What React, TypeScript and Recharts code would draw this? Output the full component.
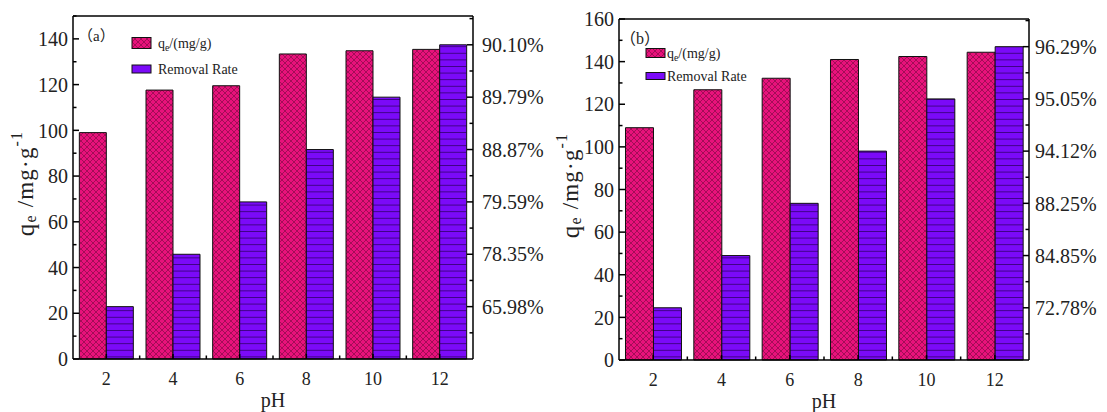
import React from 'react';
import { BarChart, Bar, XAxis, YAxis, ReferenceLine } from 'recharts';

// pH levels tested (shared by both panels)
const phLevels = ['2', '4', '6', '8', '10', '12'];

// panel (a)
const qeA = [99, 117.6, 119.5, 133.4, 134.8, 135.4];
const removalA = [65.98, 78.35, 79.59, 88.87, 89.79, 90.1];
const rateTicksA = [65.98, 78.35, 79.59, 88.87, 89.79, 90.1];

// panel (b)
const qeB = [109, 126.8, 132.2, 141, 142.4, 144.4];
const removalB = [72.78, 84.85, 88.25, 94.12, 95.05, 96.29];
const rateTicksB = [72.78, 84.85, 88.25, 94.12, 95.05, 96.29];

const PINK = '#E8127B';
const VIOLET = '#7B0AF8';
const FONT = "'Liberation Serif', 'Times New Roman', serif";
const AXIS_W = 1.5;

// the rate axis is spaced by rank, one slot per labelled rate
const toSlot = (v: number, ticks: number[]) => {
  if (v <= ticks[0]) return v / ticks[0];
  for (let i = 0; i < ticks.length - 1; i++) {
    if (v <= ticks[i + 1]) return i + 1 + (v - ticks[i]) / (ticks[i + 1] - ticks[i]);
  }
  return ticks.length;
};

const range = (from: number, to: number, step: number) => {
  const out: number[] = [];
  for (let v = from; v <= to + 1e-9; v += step) out.push(Math.round(v * 100) / 100);
  return out;
};

const LeftTick = (props: any) => {
  const { x, y, payload } = props;
  const major = payload.value % 20 === 0;
  return (
    <g>
      <line x1={x} x2={x + (major ? 6 : 3.5)} y1={y} y2={y} stroke="#000" strokeWidth={AXIS_W} />
      {major && (
        <text x={x - 5} y={y} dy="0.36em" textAnchor="end" fontSize={20} fontFamily={FONT} fill="#222">
          {payload.value}
        </text>
      )}
    </g>
  );
};

const makeRightTick = (labels: number[], gap: number) => (props: any) => {
  const { x, y, payload } = props;
  const major = Number.isInteger(payload.value);
  return (
    <g key={`rt-${payload.value}`}>
      <line x1={x} x2={x - (major ? 6 : 3.5)} y1={y} y2={y} stroke="#000" strokeWidth={AXIS_W} />
      {major && (
        <text x={x + gap} y={y} dy="0.36em" textAnchor="start" fontSize={20} fontFamily={FONT} fill="#222">
          {labels[payload.value - 1].toFixed(2)}%
        </text>
      )}
    </g>
  );
};

const makeBottomTick = (halfBand: number, last: string) => (props: any) => {
  const { x, y, payload } = props;
  return (
    <g key={`bt-${payload.value}`}>
      <line x1={x} x2={x} y1={y} y2={y - 5} stroke="#000" strokeWidth={AXIS_W} />
      {payload.value !== last && (
        <line x1={x + halfBand} x2={x + halfBand} y1={y} y2={y - 3.5} stroke="#000" strokeWidth={AXIS_W} />
      )}
      <text x={x} y={y + 26} textAnchor="middle" fontSize={18} fontFamily={FONT} fill="#222">
        {payload.value}
      </text>
    </g>
  );
};

const YTitle = ({ cx, cy }: { cx: number; cy: number }) => (
  <text
    x={cx}
    y={cy}
    transform={`rotate(-90, ${cx}, ${cy})`}
    textAnchor="middle"
    dominantBaseline="central"
    fontFamily={FONT}
    fill="#222"
    fontSize={23}
    letterSpacing={1.2}
  >
    <tspan fontSize={25}>q</tspan>
    <tspan fontSize={16} dy={5}>e</tspan>
    <tspan dy={-5}> /mg·g</tspan>
    <tspan fontSize={16} dy={-9}>-1</tspan>
  </text>
);

interface PanelProps {
  id: string;
  tag: string;
  qe: number[];
  removal: number[];
  rateTicks: number[];
  qeMax: number;
  slotMax: number;
  left: number;
  width: number;
  margin: { top: number; right: number; bottom: number; left: number };
  rateGap: number;
  titleX: number;
  legend: { x: number; y1: number; y2: number; h1: number; h2: number; textX: number; font: number };
  tagPos: { x: number; y: number; font: number };
}

const Panel = (p: PanelProps) => {
  const rows = phLevels.map((ph, i) => ({
    ph,
    qe: p.qe[i],
    rate: p.removal[i],
    slot: toSlot(p.removal[i], p.rateTicks),
  }));
  const plotW = p.width - p.margin.left - p.margin.right - 40 - 70;
  const halfBand = plotW / phLevels.length / 2;
  const cross = `cross-${p.id}`;
  const lines = `lines-${p.id}`;
  const lg = p.legend;

  return (
    <div style={{ position: 'absolute', left: p.left, top: 0, width: p.width, height: 412 }}>
      <BarChart
        width={p.width}
        height={412}
        data={rows}
        margin={p.margin}
        barGap={0}
        barCategoryGap="9.5%"
      >
        <defs>
          <pattern id={cross} width={6} height={6} patternUnits="userSpaceOnUse">
            <rect width={6} height={6} fill={PINK} />
            <path d="M0,0L6,6M6,0L0,6" stroke="#6a0a38" strokeWidth={0.55} />
          </pattern>
          <pattern id={lines} width={8} height={6.6} patternUnits="userSpaceOnUse">
            <rect width={8} height={6.6} fill={VIOLET} />
            <line x1={0} x2={8} y1={0.4} y2={0.4} stroke="#2a0060" strokeWidth={0.8} />
          </pattern>
        </defs>
        <XAxis
          dataKey="ph"
          height={30}
          interval={0}
          tickSize={0}
          tickMargin={0}
          tickLine={false}
          axisLine={{ stroke: '#000', strokeWidth: AXIS_W }}
          tick={makeBottomTick(halfBand, phLevels[phLevels.length - 1])}
          label={(lp: any) => {
            const vb = lp.viewBox;
            return (
              <text x={vb.x + vb.width / 2} y={vb.y + 48} textAnchor="middle" fontSize={20} fontFamily={FONT} fill="#222">
                pH
              </text>
            );
          }}
        />
        <YAxis
          yAxisId="left"
          width={40}
          domain={[0, p.qeMax]}
          ticks={range(0, p.qeMax, 10)}
          interval={0}
          tickSize={0}
          tickMargin={0}
          tickLine={false}
          axisLine={{ stroke: '#000', strokeWidth: AXIS_W }}
          tick={LeftTick}
          label={(lp: any) => {
            const vb = lp.viewBox;
            return <YTitle cx={p.titleX} cy={vb.y + vb.height / 2 - 4} />;
          }}
        />
        <YAxis
          yAxisId="right"
          orientation="right"
          width={70}
          domain={[0, p.slotMax]}
          ticks={range(0.5, 6.5, 0.5)}
          interval={0}
          tickSize={0}
          tickMargin={0}
          tickLine={false}
          axisLine={{ stroke: '#000', strokeWidth: AXIS_W }}
          tick={makeRightTick(p.rateTicks, p.rateGap)}
        />
        <ReferenceLine yAxisId="left" y={p.qeMax} stroke="#000" strokeWidth={AXIS_W} />
        <Bar
          yAxisId="left"
          dataKey="qe"
          name="qe/(mg/g)"
          fill={`url(#${cross})`}
          stroke="#111"
          strokeWidth={1}
          isAnimationActive={false}
        />
        <Bar
          yAxisId="right"
          dataKey="slot"
          name="Removal Rate"
          fill={`url(#${lines})`}
          stroke="#111"
          strokeWidth={1}
          isAnimationActive={false}
        />
      </BarChart>
      <svg
        width={p.width}
        height={412}
        style={{ position: 'absolute', left: 0, top: 0, pointerEvents: 'none' }}
      >
        <text x={p.tagPos.x} y={p.tagPos.y} dy="0.35em" fontSize={p.tagPos.font} fill="#222">
          <tspan fontFamily="'Noto Sans CJK SC'">（</tspan>
          <tspan fontFamily={FONT}>{p.tag}</tspan>
          <tspan fontFamily="'Noto Sans CJK SC'">）</tspan>
        </text>
        <rect x={lg.x} y={lg.y1 - lg.h1 / 2} width={19} height={lg.h1} fill={`url(#${cross})`} stroke="#111" strokeWidth={1} />
        <text x={lg.textX} y={lg.y1} dy="0.35em" fontSize={lg.font} fontFamily={FONT} fill="#222">
          <tspan>q</tspan>
          <tspan fontSize={lg.font * 0.7} dy={3}>e</tspan>
          <tspan dy={-3}>/(mg/g)</tspan>
        </text>
        <rect x={lg.x} y={lg.y2 - lg.h2 / 2} width={19} height={lg.h2} fill={VIOLET} stroke="#111" strokeWidth={1} />
        <text x={lg.textX} y={lg.y2} dy="0.35em" fontSize={lg.font} fontFamily={FONT} fill="#222">
          Removal Rate
        </text>
      </svg>
    </div>
  );
};

export default function App() {
  return (
    <div style={{ position: 'absolute', left: 0, top: 0, width: 1107, height: 412, background: '#fff' }}>
      <Panel
        id="a"
        tag="a"
        qe={qeA}
        removal={removalA}
        rateTicks={rateTicksA}
        qeMax={150}
        slotMax={6.55}
        left={0}
        width={555}
        margin={{ top: 16, right: 12, bottom: 23, left: 33 }}
        rateGap={9}
        titleX={25}
        legend={{ x: 132, y1: 43, y2: 69, h1: 11, h2: 8, textX: 158, font: 14 }}
        tagPos={{ x: 78, y: 36, font: 15 }}
      />
      <Panel
        id="b"
        tag="b"
        qe={qeB}
        removal={removalB}
        rateTicks={rateTicksB}
        qeMax={160}
        slotMax={6.53}
        left={550}
        width={557}
        margin={{ top: 19, right: 8, bottom: 22, left: 29 }}
        rateGap={6}
        titleX={20}
        legend={{ x: 96, y1: 53, y2: 76, h1: 9, h2: 7, textX: 117, font: 14 }}
        tagPos={{ x: 70, y: 38, font: 16 }}
      />
    </div>
  );
}
